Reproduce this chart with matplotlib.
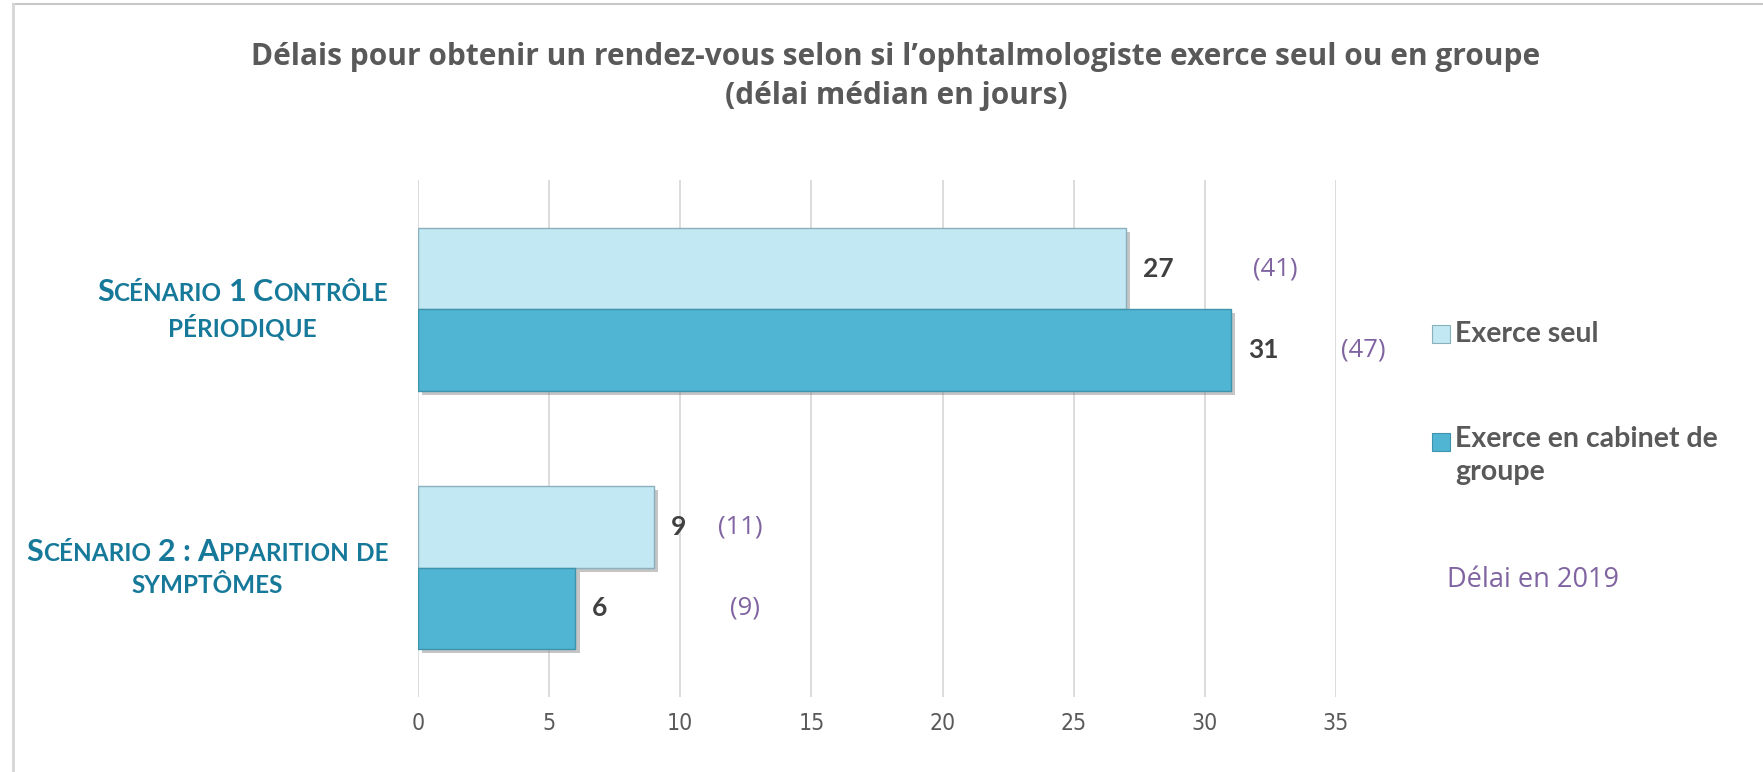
import matplotlib
matplotlib.use("Agg")
import matplotlib.pyplot as plt
import matplotlib.patheffects as pe
from matplotlib.patches import Rectangle
from matplotlib.lines import Line2D
from matplotlib.offsetbox import TextArea, HPacker, VPacker, AnnotationBbox

# ---------------- data ----------------
title_lines = ["Délais pour obtenir un rendez-vous selon si l’ophtalmologiste exerce seul ou en groupe",
               "(délai médian en jours)"]
categories = ["Scénario 1 Contrôle\npériodique", "Scénario 2 : Apparition de\nsymptômes"]
series_names = ["Exerce seul", "Exerce en cabinet de\ngroupe"]
seul = [27, 9]
groupe = [31, 6]
prev_seul = [41, 11]      # délai en 2019
prev_groupe = [47, 9]
prev_label = "Délai en 2019"
xticks = [0, 5, 10, 15, 20, 25, 30, 35]

# ---------------- layout / style ----------------
W, H = 1763, 772
light = "#C2E8F3"
dark = "#50B4D3"
edge = "#8AAFBD"
teal = "#17799A"
gray_txt = "#595959"
val_txt = "#404040"
purple = "#8064A2"
prev_x_seul = [32.67, 12.28]
prev_x_groupe = [36.03, 12.47]

def fx(px):
    return px / W

def fy(py):
    return 1 - py / H

fig = plt.figure(figsize=(W / 100, H / 100), dpi=100)
fig.patch.set_facecolor("white")

# outer frame (top and left only)
fig.add_artist(Line2D([fx(13), 1], [fy(4), fy(4)], color="#C8C8C8", lw=1.5, transform=fig.transFigure))
fig.add_artist(Line2D([fx(13), fx(13)], [fy(4), 0], color="#D6D6D6", lw=2, transform=fig.transFigure))

ax = fig.add_axes([fx(418), fy(697), fx(1336) - fx(418), fy(180) - fy(697)])
ax.set_xlim(0, 35)
ax.set_ylim(1.5, -0.5)

h = 0.315
ys = list(range(len(categories)))
shadow = [pe.SimplePatchShadow(offset=(3, -3), shadow_rgbFace="#7f7f7f", alpha=0.45), pe.Normal()]
b1 = ax.barh([y - h / 2 for y in ys], seul, height=h, color=light, edgecolor=edge, linewidth=1, zorder=3)
b2 = ax.barh([y + h / 2 for y in ys], groupe, height=h, color=dark, edgecolor="#3E93AD", linewidth=1, zorder=4)
for b in list(b1) + list(b2):
    b.set_path_effects(shadow)

# value labels
for y, v in zip(ys, seul):
    ax.annotate(str(v), (v, y - h / 2), xytext=(12, 0), textcoords="offset points",
                ha="left", va="center", fontsize=19, fontweight="bold", color=val_txt, family="Lato", zorder=6)
for y, v in zip(ys, groupe):
    ax.annotate(str(v), (v, y + h / 2), xytext=(12, 0), textcoords="offset points",
                ha="left", va="center", fontsize=19, fontweight="bold", color=val_txt, family="Lato", zorder=6)
for y, v, x in zip(ys, prev_seul, prev_x_seul):
    ax.text(x, y - h / 2, f"({v})", ha="center", va="center", fontsize=18.5, color=purple, family="Open Sans", zorder=6)
for y, v, x in zip(ys, prev_groupe, prev_x_groupe):
    ax.text(x, y + h / 2, f"({v})", ha="center", va="center", fontsize=18.5, color=purple, family="Open Sans", zorder=6)

# axes styling
for s in ax.spines.values():
    s.set_visible(False)
ax.set_xticks(xticks)
ax.set_xticklabels([str(t) for t in xticks], fontsize=16.5, color=gray_txt,
                   family=["Liberation Sans Narrow", "DejaVu Sans"], stretch="condensed")
ax.tick_params(axis="x", length=0, pad=11)
ax.set_yticks(ys)
ax.set_yticklabels([""] * len(ys))
ax.tick_params(axis="y", length=0)
ax.xaxis.grid(True, color="#D9D9D9", lw=1.3, zorder=0)
ax.set_axisbelow(True)

# small-caps category labels
BIG, SMALL = 22, 17.5

def word_box(word):
    runs = []
    for ch in word:
        small = ch.islower()
        if runs and runs[-1][1] == small:
            runs[-1][0] += ch
        else:
            runs.append([ch, small])
    areas = [TextArea(t.upper(), textprops=dict(fontsize=SMALL if sm else BIG, fontweight="bold",
                                                color=teal, family="Lato")) for t, sm in runs]
    return HPacker(children=areas, align="baseline", pad=0, sep=0)

for y, cat in zip(ys, categories):
    lines = []
    for line in cat.split("\n"):
        words = [word_box(w) for w in line.split(" ")]
        lines.append(HPacker(children=words, align="baseline", pad=0, sep=5))
    block = VPacker(children=lines, align="center", pad=0, sep=6)
    ab = AnnotationBbox(block, ((388 - 418) / (1336 - 418), y), xycoords=("axes fraction", "data"),
                        box_alignment=(1, 0.5), frameon=False, annotation_clip=False)
    ax.add_artist(ab)

# title
fig.text(fx(896), fy(57), title_lines[0], ha="center", va="center", fontsize=21.5,
         fontweight="bold", color=gray_txt, family="Open Sans")
fig.text(fx(896), fy(96), title_lines[1], ha="center", va="center", fontsize=21.5,
         fontweight="bold", color=gray_txt, family="Open Sans")

# legend
leg_items = [(light, edge, 325), (dark, "#3E93AD", 433)]
for col, ec, top in leg_items:
    fig.add_artist(Rectangle((fx(1432), fy(top + 18)), fx(18), 18 / H, transform=fig.transFigure,
                             facecolor=col, edgecolor=ec, lw=0.8))
fig.text(fx(1455), fy(334), series_names[0], ha="left", va="center", fontsize=20.5,
         fontweight="bold", color=gray_txt, family="Lato")
fig.text(fx(1455), fy(426), series_names[1], ha="left", va="top", fontsize=20.5,
         fontweight="bold", color=gray_txt, family="Lato", linespacing=1.35)
fig.text(fx(1447), fy(580), prev_label, ha="left", va="center", fontsize=19.5,
         color=purple, family="Open Sans")

fig.savefig("out.png", dpi=100, facecolor="white")
